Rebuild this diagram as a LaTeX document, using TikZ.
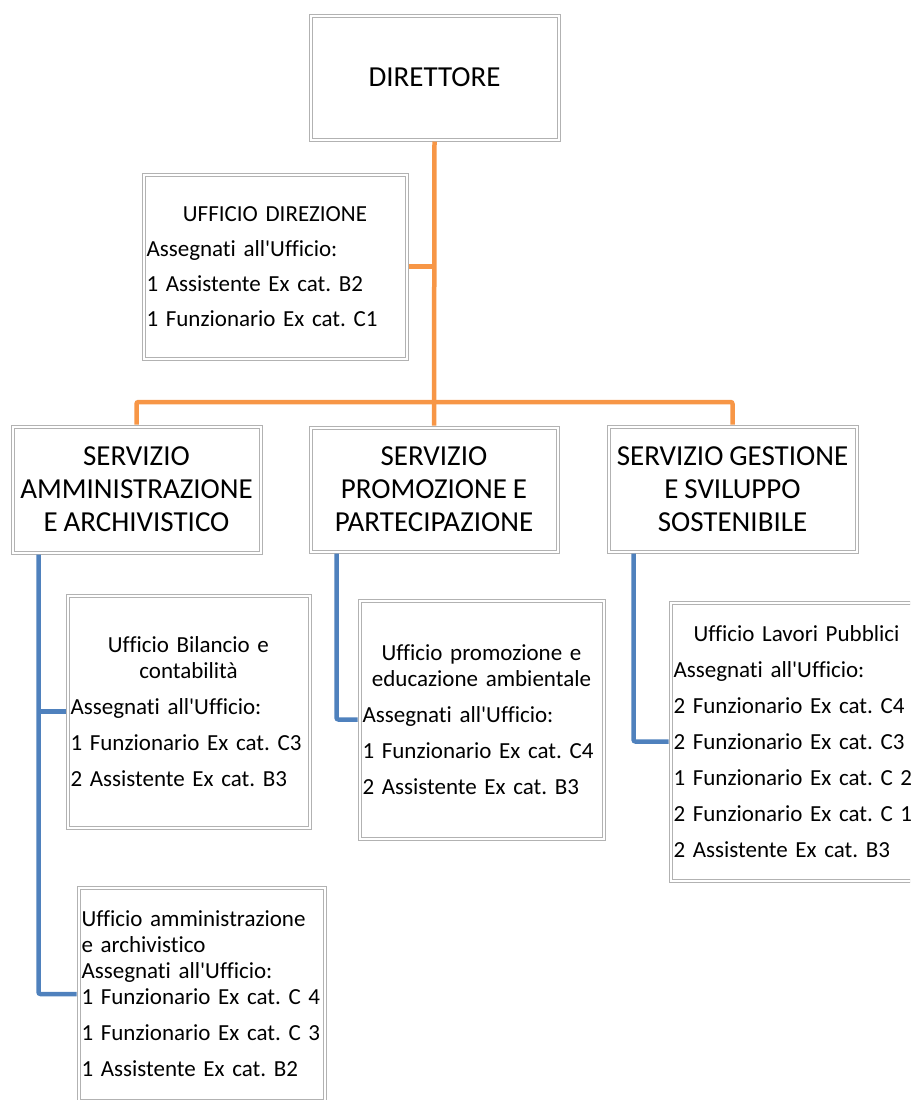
\documentclass[tikz,border=0pt]{standalone}
\usepackage{fontspec}
\setmainfont{Carlito}[Ligatures={TeXOff,NoCommon},WordSpace=0.9]
\definecolor{orgline}{HTML}{F79646}
\definecolor{blueline}{HTML}{4F81BD}
\newcommand{\ufftitle}[1]{\makebox[\hsize]{#1}}
\newcommand{\uffsetup}{\fontsize{23}{26}\selectfont\frenchspacing\raggedright\hbadness=10000 \hfuzz=20pt\relax}

\begin{document}
\begin{tikzpicture}[x=1pt,y=1pt,
		box/.style={draw=gray!60, double=white, double distance=2pt, line width=1pt, outer sep=2pt,
			inner xsep=3pt, inner ysep=0pt, align=center, font=\fontsize{29}{33}\selectfont},
		uffbox/.style={draw=gray!60, double=white, double distance=2pt, line width=1pt, outer sep=2pt,
			inner xsep=3pt, inner ysep=0pt, font=\uffsetup},
		orgarm/.style={draw=orgline, line width=4.5pt},
		bluearm/.style={draw=blueline, line width=4.5pt}]
		\useasboundingbox (0,0) rectangle (910,-1100);
		\clip (0,0) rectangle (910,-1100);
		\node[box, minimum width=248, minimum height=124] (dir) at (434.5,-77.5) {DIRETTORE};
		\node[uffbox, minimum width=263, minimum height=184, text width=257] (uffdir) at (275,-266.5)
			{\ufftitle{UFFICIO DIREZIONE}\\[9pt]Assegnati all'Ufficio:\\[9pt]1 Assistente Ex cat. B2\\[9pt]1 Funzionario Ex cat. C1};
		\node[box, minimum width=248, minimum height=126] (samm) at (136.5,-489.5) {SERVIZIO\\ AMMINISTRAZIONE\\ E ARCHIVISTICO};
		\node[box, minimum width=247, minimum height=124] (sprom) at (434,-489.5) {SERVIZIO\\ PROMOZIONE E\\ PARTECIPAZIONE};
		\node[box, minimum width=248, minimum height=125] (sgest) at (732.5,-489) {SERVIZIO GESTIONE\\ E SVILUPPO\\ SOSTENIBILE};
		\node[uffbox, minimum width=242, minimum height=232, text width=236] (ubil) at (188.5,-711.5)
			{\ufftitle{Ufficio Bilancio e}\\\ufftitle{contabilità}\\[10pt]Assegnati all'Ufficio:\\[10pt]1 Funzionario Ex cat. C3\\[10pt]2 Assistente Ex cat. B3};
		\node[uffbox, minimum width=244, minimum height=238, text width=238] (uprom) at (481.5,-719.5)
			{\ufftitle{Ufficio promozione e}\\\ufftitle{educazione ambientale}\\[10pt]Assegnati all'Ufficio:\\[10pt]1 Funzionario Ex cat. C4\\[10pt]2 Assistente Ex cat. B3};
		\node[uffbox, minimum width=252, minimum height=278, text width=246] (ulav) at (796.5,-741.5)
			{\ufftitle{Ufficio Lavori Pubblici}\\[10pt]Assegnati all'Ufficio:\\[10pt]2 Funzionario Ex cat. C4\\[10pt]2 Funzionario Ex cat. C3\\[10pt]%
			1 Funzionario Ex cat. C 2\\[10pt]2 Funzionario Ex cat. C 1\\[10pt]2 Assistente Ex cat. B3};
		\node[uffbox, minimum width=246, minimum height=213, text width=240] (uamm) at (201.5,-994)
			{Ufficio amministrazione\\e archivistico\\Assegnati all'Ufficio:\\1 Funzionario Ex cat. C 4\\[10pt]1 Funzionario Ex cat. C 3\\[10pt]1 Assistente Ex cat. B2};
		\coordinate (bus) at (434,-402);
		% direttore
		\draw[orgarm] (dir.south) -- (sprom.north);
		\draw[orgarm] (uffdir.east) -- (uffdir.east -| dir.south);
		\draw[orgarm, rounded corners=2pt] (samm.north) |- (bus) -| (sgest.north);
		% servizi
		\draw[bluearm, rounded corners=2pt] ([xshift=28pt]samm.south west) |- (uamm.west);
		\draw[bluearm] ([xshift=28pt]samm.south west |- ubil.west) -- (ubil.west);
		\draw[bluearm, rounded corners=2pt] ([xshift=28pt]sprom.south west) |- (uprom.west);
		\draw[bluearm, rounded corners=2pt] ([xshift=27pt]sgest.south west) |- (ulav.west);
	\end{tikzpicture}
\end{document}
